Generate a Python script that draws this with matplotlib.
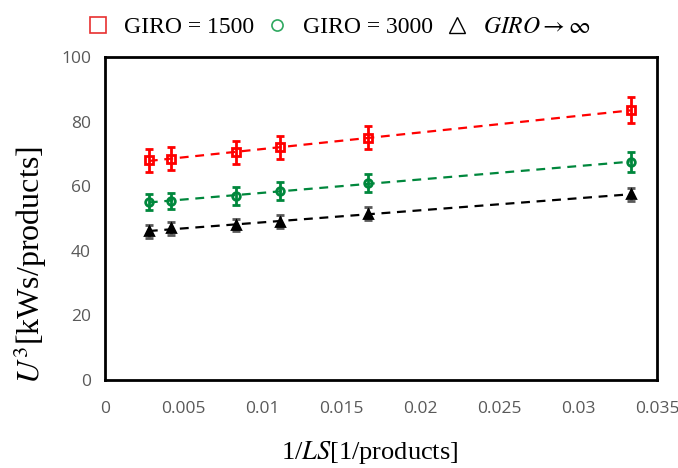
#!/usr/bin/env python3
"""U^3 vs 1/LS for several GIRO values."""

import matplotlib
matplotlib.use("Agg")
import matplotlib.pyplot as plt
import numpy as np
from matplotlib.lines import Line2D

inv_ls = [1 / 360, 1 / 240, 1 / 120, 1 / 90, 1 / 60, 1 / 30]

u3_1500 = [68.0, 68.5, 70.5, 72.0, 75.0, 83.5]
err_1500 = [3.5, 3.5, 3.5, 3.5, 3.5, 4.0]
u3_3000 = [55.0, 55.5, 57.0, 58.5, 61.0, 67.5]
err_3000 = [2.5, 2.5, 2.8, 2.8, 2.8, 3.0]
u3_inf = [46.0, 47.0, 48.0, 49.0, 51.5, 57.5]
err_inf = [2.0, 2.0, 2.0, 2.0, 2.0, 2.0]

series = [
    ("GIRO = 1500", u3_1500, err_1500, "s", "#ff0000", "#ff0000"),
    ("GIRO = 3000", u3_3000, err_3000, "o", "#00873c", "#00873c"),
    (r"$GIRO \rightarrow \infty$", u3_inf, err_inf, "^", "#000000", "#595959"),
]

plt.rcParams["mathtext.fontset"] = "stix"

fig = plt.figure(figsize=(6.78, 4.68), dpi=100)
ax = fig.add_axes([105 / 678, (468 - 380) / 468, 552 / 678, 323 / 468])

x = np.array(inv_ls)
for label, y, err, marker, color, ecolor in series:
    coef = np.polyfit(x, y, 1)
    xf = np.array([x.min(), x.max()])
    ax.plot(xf, np.polyval(coef, xf), "--", color=color, lw=1.6, dashes=(4, 3), zorder=2)
    ax.errorbar(x, y, yerr=err, fmt=marker, color=color, ecolor=ecolor,
                mfc=color if marker == "^" else "none", mec=color, mew=2,
                ms=5.5, elinewidth=2, capsize=3, capthick=2, zorder=3)

ax.set_xlim(0, 0.035)
ax.set_ylim(0, 100)
ax.set_xticks(np.arange(0, 0.0351, 0.005))
ax.set_xticklabels(["0", "0.005", "0.01", "0.015", "0.02", "0.025", "0.03", "0.035"])
ax.set_yticks(range(0, 101, 20))
ax.tick_params(length=0, labelsize=12.5, labelcolor="#595959")
ax.tick_params(axis="x", pad=15)
ax.tick_params(axis="y", pad=10)
for lab in ax.get_xticklabels() + ax.get_yticklabels():
    lab.set_fontfamily("Open Sans")
for sp in ax.spines.values():
    sp.set_linewidth(2)
    sp.set_color("black")

ax.set_ylabel("$U^3$[kWs/products]", family="Liberation Serif", fontsize=23, va="center")
ax.yaxis.set_label_coords(-0.136, 0.356)
ax.set_xlabel("1/$LS$[1/products]", family="Liberation Serif", fontsize=19, va="center")
ax.xaxis.set_label_coords(0.48, -0.223)

handles = [
    Line2D([], [], ls="none", marker="s", ms=11, mfc="none", mec="#e83030", mew=1.2),
    Line2D([], [], ls="none", marker="o", ms=8, mfc="none", mec="#2fa860", mew=1.2),
    Line2D([], [], ls="none", marker="^", ms=12, mfc="none", mec="#000000", mew=1.0),
]
labels = ["GIRO = 1500", "GIRO = 3000", r"$GIRO \rightarrow \infty$"]
fig.legend(handles, labels, loc="upper center", bbox_to_anchor=(0.497, 1.01), ncol=3,
           frameon=False, prop={"family": "Liberation Serif", "size": 17},
           handletextpad=0.5, columnspacing=0.4, handlelength=1.2)

fig.savefig("out.png", dpi=100)
